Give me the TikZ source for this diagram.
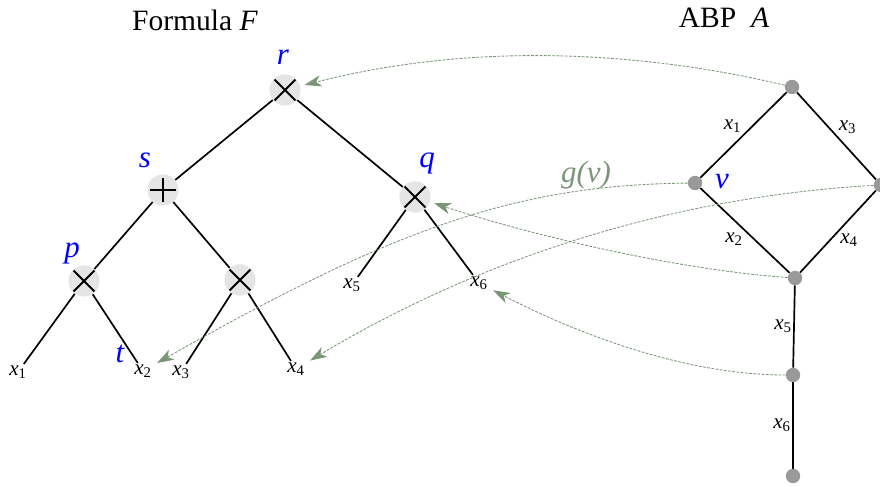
\documentclass[tikz,border=0pt]{standalone}
\usepackage{fontspec}
\setmainfont{Liberation Serif}
\usepackage{tikz}
\usetikzlibrary{arrows.meta}
\definecolor{mapgreen}{RGB}{122,150,118}
\newcommand{\xv}[1]{\textit{x}\textsubscript{#1}}

\begin{document}
\begin{tikzpicture}[x=0.025cm, y=-0.025cm,
  wire/.style = {line width=1.2pt},
  gate/.style = {circle, fill=black!10, minimum size=0.78cm, inner sep=0pt},
  timesgate/.style = {gate, path picture={
      \draw[line width=1.3pt] (path picture bounding box.center) ++(-0.26cm,-0.26cm) -- ++(0.52cm,0.52cm);
      \draw[line width=1.3pt] (path picture bounding box.center) ++(-0.26cm,0.26cm) -- ++(0.52cm,-0.52cm);}},
  plusgate/.style = {gate, path picture={
      \draw[line width=1.3pt] (path picture bounding box.center) ++(-0.33cm,0cm) -- ++(0.66cm,0cm);
      \draw[line width=1.3pt] (path picture bounding box.center) ++(0cm,-0.31cm) -- ++(0cm,0.62cm);}},
  leaflbl/.style = {inner sep=1pt, font=\fontsize{15}{18}\selectfont},
  elbl/.style = {inner sep=1pt, font=\fontsize{15}{18}\selectfont},
  gatename/.style = {text=blue, font=\fontsize{22}{26}\selectfont\itshape},
  abpdot/.style = {circle, fill=black!40, minimum size=0.36cm, inner sep=0pt},
  maparr/.style = {-{Stealth[length=12pt, width=8pt, inset=3.5pt]}, mapgreen,
                   line width=0.6pt, dash pattern=on 2pt off 1pt, shorten >=3pt},
]
\useasboundingbox (0,0) rectangle (880,486);

% Titles
\node[font=\fontsize{21}{25}\selectfont] (ftitle) at (195,20) {Formula \textit{F}};
\node[font=\fontsize{21}{25}\selectfont] (atitle) at (724,18) {ABP\ \ \textit{A}};

% Formula tree
\node[timesgate] (r) at (285,90) {};
\node[plusgate] (s) at (163,190) {};
\node[timesgate] (q) at (415,197) {};
\node[timesgate] (p) at (84,281) {};
\node[timesgate] (m) at (240,280) {};

\node[leaflbl] (l1) at (18,372) {\xv{1}};
\node[leaflbl] (l2) at (143,371) {\xv{2}};
\node[leaflbl] (l3) at (181,372) {\xv{3}};
\node[leaflbl] (l4) at (296,369) {\xv{4}};
\node[leaflbl] (l5) at (352,285) {\xv{5}};
\node[leaflbl] (l6) at (479,283) {\xv{6}};

\draw[wire] (r) -- (s);
\draw[wire] (r) -- (q);
\draw[wire] (s) -- (p);
\draw[wire] (s) -- (m);
\draw[wire] (p) -- (l1);
\draw[wire] (p) -- (l2);
\draw[wire] (m) -- (l3);
\draw[wire] (m) -- (l4);
\draw[wire] (q) -- (l5);
\draw[wire] (q) -- (l6);

\node[gatename] (rname) at (283,57) {r};
\node[gatename] (sname) at (145,160) {s};
\node[gatename] (qname) at (427,164) {q};
\node[gatename] (pname) at (72,254) {p};
\node[gatename] (tname) at (120,354) {t};

% ABP
\node[abpdot] (a1) at (792,87) {};
\node[abpdot] (av) at (695,183) {};
\node[abpdot] (a3) at (881,185) {};
\node[abpdot] (a4) at (795,278) {};
\node[abpdot] (a5) at (793,375) {};
\node[abpdot] (a6) at (793,476) {};

\draw[wire] (a1) -- node[elbl, above left] {\xv{1}} (av);
\draw[wire] (a1) -- node[elbl, above right] {\xv{3}} (a3);
\draw[wire] (av) -- node[elbl, below left] {\xv{2}} (a4);
\draw[wire] (a3) -- node[elbl, below right] {\xv{4}} (a4);
\draw[wire] (a4) -- node[elbl, left] {\xv{5}} (a5);
\draw[wire] (a5) -- node[elbl, left] {\xv{6}} (a6);

\node[gatename] (vname) at (722,182) {v};

% The map g
\node[text=mapgreen, font=\fontsize{22}{26}\selectfont\itshape] (glbl) at (586,175) {g(v)};
\draw[maparr] (a1) .. controls (680,60) and (500,35) .. (r);
\draw[maparr] (av) .. controls (520,185) and (400,225) .. (l2);
\draw[maparr] (a3) .. controls (700,195) and (503,245) .. (l4);
\draw[maparr] (a4) .. controls (680,270) and (537,237) .. (q);
\draw[maparr] (a5) .. controls (680,375) and (570,330) .. (l6);
\end{tikzpicture}
\end{document}
